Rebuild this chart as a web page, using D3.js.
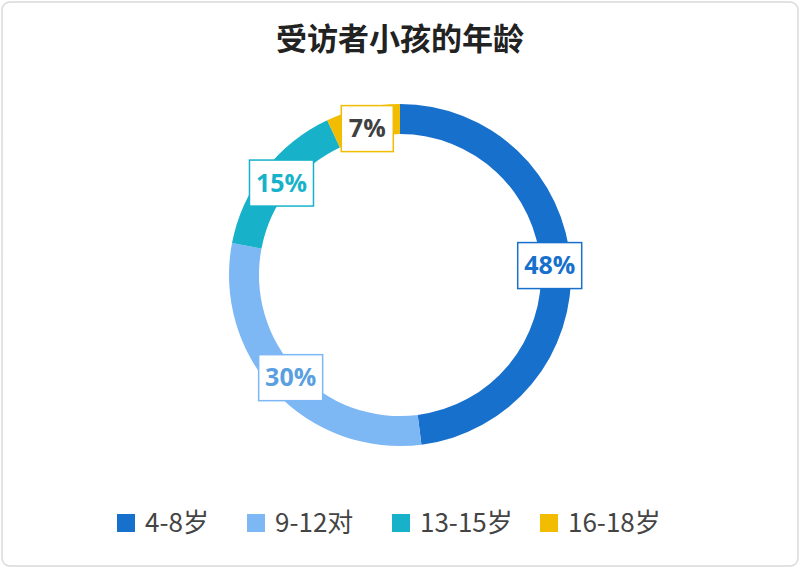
<!DOCTYPE html>
<html><head><meta charset="utf-8">
<script src="https://cdn.jsdelivr.net/npm/d3@7"></script>
<style>body{margin:0;background:#fff;font-family:"Noto Sans CJK SC","Noto Sans",sans-serif}</style>
</head><body><div id="chart"></div>
<script>
const categories = ["4-8岁", "9-12对", "13-15岁", "16-18岁"];
const values = [48, 30, 15, 7];
const colors = ["#1670CC", "#7DB8F5", "#17B2C9", "#F2BC00"];
const labelColors = ["#1670CC", "#5A9FE0", "#17B2C9", "#404040"];

const width = 800, height = 568;
const svg = d3.select("#chart").append("svg").attr("width", width).attr("height", height);

svg.append("rect").attr("x", 2).attr("y", 2).attr("width", width - 4).attr("height", height - 4)
    .attr("rx", 8).attr("fill", "#fff").attr("stroke", "#d9d9d9").attr("stroke-width", 1.5);

svg.append("text").attr("x", 400).attr("y", 50).attr("text-anchor", "middle")
    .attr("font-size", 31).attr("font-weight", "bold").attr("fill", "#222").text("受访者小孩的年龄");

const cx = 400, cy = 275;
const pie = d3.pie().sort(null)(values);
const arc = d3.arc().innerRadius(141).outerRadius(171);
const g = svg.append("g").attr("transform", `translate(${cx},${cy})`);
g.selectAll("path").data(pie).enter().append("path")
    .attr("d", arc).attr("fill", (d, i) => colors[i]);

const labelArc = d3.arc().innerRadius(150).outerRadius(150);
const lab = g.selectAll("g.lab").data(pie).enter().append("g").attr("class", "lab")
    .attr("transform", d => { const [x, y] = labelArc.centroid(d); return `translate(${x},${y})`; });
lab.append("rect")
    .attr("x", (d, i) => i === 3 ? -26 : -32).attr("y", -23)
    .attr("width", (d, i) => i === 3 ? 52 : 64).attr("height", 46)
    .attr("fill", "#fff").attr("stroke", (d, i) => colors[i]).attr("stroke-width", 1.5);
lab.append("text").attr("text-anchor", "middle").attr("dy", "0.35em")
    .attr("font-size", 25).attr("font-weight", "bold")
    .attr("font-family", "'Open Sans','Noto Sans',sans-serif")
    .attr("fill", (d, i) => labelColors[i]).text(d => d.data + "%");

const legendX = [117, 247, 392, 540];
const leg = svg.append("g").selectAll("g").data(categories).enter().append("g")
    .attr("transform", (d, i) => `translate(${legendX[i]},523)`);
leg.append("rect").attr("x", 0).attr("y", -9).attr("width", 18).attr("height", 18)
    .attr("fill", (d, i) => colors[i]);
leg.append("text").attr("x", 28).attr("dy", "0.35em").attr("font-size", 26)
    .attr("fill", "#444").text(d => d);
</script></body></html>
